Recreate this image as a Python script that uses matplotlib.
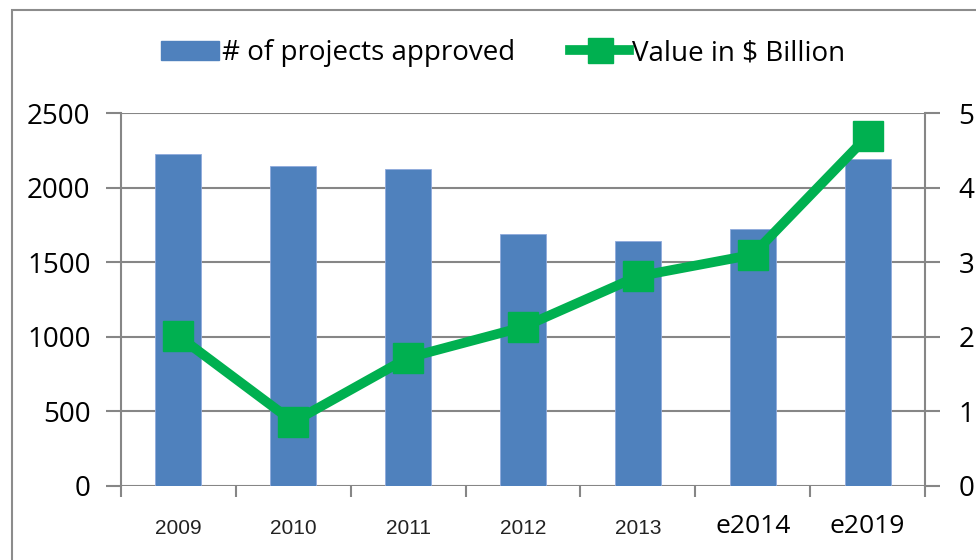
import matplotlib.pyplot as plt
import matplotlib.patches as mpatches
from matplotlib.lines import Line2D
import numpy as np

years = ['2009', '2010', '2011', '2012', '2013', 'e2014', 'e2019']
projects = [2225, 2145, 2125, 1690, 1640, 1722, 2195]
value_bn = [2.01, 0.86, 1.72, 2.13, 2.81, 3.10, 4.69]

bar_color = '#4F81BD'
line_color = '#00B050'
grid_color = '#868686'
font = 'Open Sans'

fig = plt.figure(figsize=(9.76, 5.6), dpi=100)
ax = fig.add_axes([121/976, 1-486/560, (925-121)/976, (486-113)/560])
ax2 = ax.twinx()

x = np.arange(len(years))
ax.bar(x, projects, width=0.4, color=bar_color, edgecolor='#8FAADC', linewidth=0.6, zorder=2)
ax2.plot(x, value_bn, color=line_color, linewidth=7, marker='s', markersize=22,
         solid_joinstyle='miter', zorder=3)

ax.set_xlim(-0.5, len(years)-0.5)
ax.set_ylim(0, 2500)
ax2.set_ylim(0, 5)
ax.set_yticks(range(0, 2501, 500))
ax2.set_yticks(range(0, 6))

ax.grid(axis='y', color=grid_color, linewidth=1.5, zorder=0)
ax.set_axisbelow(True)

for a in (ax, ax2):
    for s in a.spines.values():
        s.set_visible(False)
ax.spines['left'].set_visible(True)
ax.spines['left'].set_color(grid_color)
ax.spines['left'].set_linewidth(1.5)
ax2.spines['right'].set_visible(True)
ax2.spines['right'].set_color(grid_color)
ax2.spines['right'].set_linewidth(1.5)

ax.tick_params(axis='y', length=11, width=1.5, color=grid_color, pad=11, labelsize=20)
ax2.tick_params(axis='y', length=11, width=1.5, color=grid_color, pad=13, labelsize=20)
for lab in ax.get_yticklabels() + ax2.get_yticklabels():
    lab.set_fontfamily(font)

# x ticks: labels at centres, tick marks at boundaries
ax.set_xticks(x)
ax.set_xticklabels(years)
ax.set_xticks(np.arange(-0.5, len(years), 1), minor=True)
ax.tick_params(axis='x', which='major', length=0, pad=24)
ax.tick_params(axis='x', which='minor', length=8, width=1.5, color=grid_color)
for i, lab in enumerate(ax.get_xticklabels()):
    if years[i].startswith('e'):
        lab.set_fontfamily(font)
        lab.set_fontsize(19)
        lab.set_y(0.015)
    else:
        lab.set_fontfamily('Liberation Sans')
        lab.set_fontsize(15)
        lab.set_color('#222222')

handles = [mpatches.Patch(color=bar_color),
           Line2D([0], [0], color=line_color, linewidth=7, marker='s', markersize=18)]
fig.legend(handles, ['# of projects approved', 'Value in $ Billion'],
           loc='center', bbox_to_anchor=(0.515, 1-53/560), ncol=2, frameon=False,
           prop={'family': font, 'size': 20}, handlelength=2.1, handletextpad=0.1,
           columnspacing=2.0)

fig.patches.append(mpatches.Rectangle((12/976, -0.05), 1.1, 1-10/560+0.05,
                                      transform=fig.transFigure, fill=False,
                                      edgecolor='#8C8C8C', linewidth=1.5))

fig.savefig('out.png', dpi=100)
